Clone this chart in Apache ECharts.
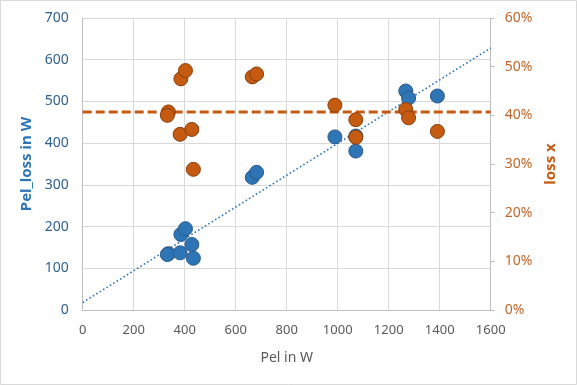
<!DOCTYPE html>
<html>
<head>
<meta charset="utf-8">
<script src="https://cdn.jsdelivr.net/npm/echarts@6/dist/echarts.min.js"></script>
<style>
html,body{margin:0;padding:0;background:#fff;}
#c{width:577px;height:385px;}
</style>
</head>
<body>
<div id="c"></div>
<script>
// Data
var pel      = [336, 332, 382, 428, 434, 385, 403, 665, 682, 989, 1071, 1071, 1267, 1278, 1391];
var pelLoss  = [135, 133, 137, 157, 124, 181, 195, 318, 330, 415, 417, 381, 525, 508, 513];
var lossX    = [0.407, 0.400, 0.361, 0.371, 0.289, 0.475, 0.492, 0.479, 0.485, 0.421, 0.391, 0.355, 0.412, 0.395, 0.367];
var trendX   = [0, 1600];
var trendY   = [18, 628];
var avgX     = [0, 1600];
var avgLoss  = [0.407, 0.407];

var blue = '#2E75B6', orange = '#C55A11';
var font = 'Noto Sans';

var lossData = pel.map(function(x,i){return [x, pelLoss[i]];});
var ratioData = pel.map(function(x,i){return [x, lossX[i]];});
var trendData = trendX.map(function(x,i){return [x, trendY[i]];});
var avgData = avgX.map(function(x,i){return [x, avgLoss[i]];});

var chart = echarts.init(document.getElementById('c'), null, {renderer:'canvas'});
chart.setOption({
  animation:false,
  backgroundColor:'#fff',
  textStyle:{fontFamily:font},
  grid:{left:82.7, right:86.3, top:18, bottom:75, containLabel:false},
  xAxis:{
    type:'value', min:0, max:1600, interval:200,
    name:'Pel in W', nameLocation:'middle', nameGap:41,
    nameTextStyle:{color:'#595959', fontSize:14, fontFamily:font},
    axisLine:{show:true, lineStyle:{color:'#BFBFBF'}},
    axisTick:{show:false},
    axisLabel:{color:'#595959', fontSize:13, margin:14, fontFamily:font,
      formatter:function(v){return String(v);}},
    splitLine:{show:true, lineStyle:{color:'#D9D9D9', width:1}}
  },
  yAxis:[{
    type:'value', min:0, max:700, interval:100,
    name:'Pel_loss in W', nameLocation:'middle', nameGap:43, nameRotate:90,
    nameTextStyle:{color:blue, fontSize:15, fontWeight:'bold', fontFamily:font},
    axisLine:{show:true, lineStyle:{color:'#BFBFBF'}},
    axisTick:{show:false},
    axisLabel:{color:'#2F5F8F', fontSize:14, margin:14, fontFamily:font,
      formatter:function(v){return String(v);}},
    splitLine:{show:true, lineStyle:{color:'#D9D9D9', width:1}}
  },{
    type:'value', min:0, max:0.6, interval:0.1, position:'right',
    name:'loss x', nameLocation:'middle', nameGap:53, nameRotate:90,
    nameTextStyle:{color:orange, fontSize:15, fontWeight:'bold', fontFamily:font},
    axisLine:{show:true, lineStyle:{color:'#BFBFBF'}},
    axisTick:{show:true, length:4, lineStyle:{color:'#BFBFBF'}},
    axisLabel:{color:'#C0662A', fontSize:14, margin:14, fontFamily:font,
      formatter:function(v){return Math.round(v*100)+'%';}},
    splitLine:{show:false}
  }],
  graphic:[{type:'rect', shape:{x:0.5,y:0.5,width:576,height:384},
    style:{fill:'none', stroke:'#D9D9D9', lineWidth:1}, silent:true, z:-1}],
  series:[
    {type:'line', data:trendData, yAxisIndex:0, symbol:'none', z:2,
     lineStyle:{color:blue, width:1.6, type:[1.6,2.4]}},
    {type:'line', data:avgData, yAxisIndex:1, symbol:'none', z:2,
     lineStyle:{color:orange, width:3, type:[9,4]}},
    {type:'scatter', data:lossData, yAxisIndex:0, symbolSize:14, z:3,
     itemStyle:{color:blue, borderColor:'#2A5A8C', borderWidth:1, opacity:1}},
    {type:'scatter', data:ratioData, yAxisIndex:1, symbolSize:14, z:4,
     itemStyle:{color:orange, borderColor:'#8A3E0C', borderWidth:1, opacity:1}}
  ]
});
</script>
</body>
</html>
